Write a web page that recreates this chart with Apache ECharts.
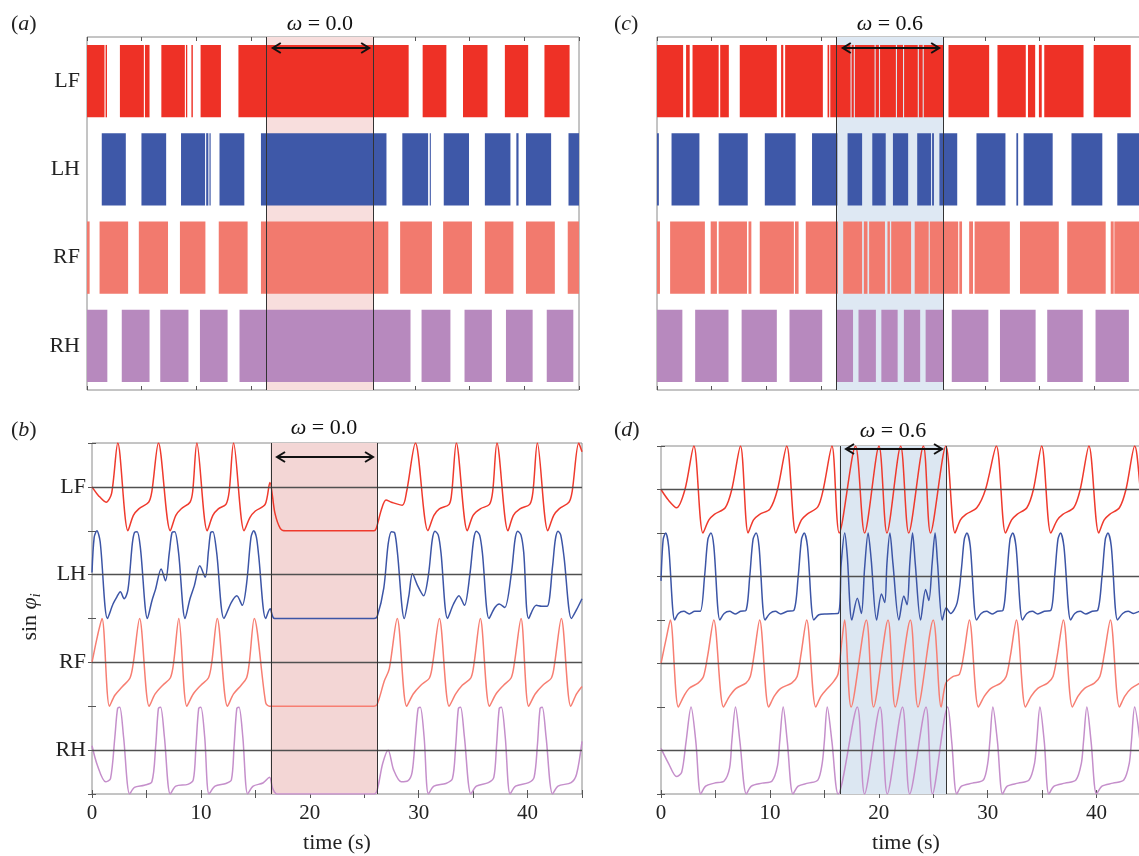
<!DOCTYPE html>
<html><head><meta charset="utf-8">
<script src="https://cdn.jsdelivr.net/npm/echarts@6/dist/echarts.min.js"></script>
<style>html,body{margin:0;padding:0;background:#fff}#c{width:1139px;height:856px}</style>
</head><body><div id="c"></div><script>
// ---------- data ----------
const LEGS = ['LF', 'LH', 'RF', 'RH'];
const TIME_MAX = 45;
const OMEGA = ['0.0', '0.6'];
const PERTURB = [16.4, 26.2];      // perturbation window (s)
const ARROW = [16.9, 25.9];        // arrow span (s)

// stance intervals [start, end] (s), panel (a) omega = 0.0
const LF_A = [[0,1.6],[1.7,1.83],[3.01,5.2],[5.3,5.72],[6.8,8.95],[9.05,9.17],[9.55,9.68],[10.39,12.25],[13.85,29.42],[30.7,32.87],[34.39,36.63],[38.22,40.35],[41.84,44.14]];
const LH_A = [[1.35,3.55],[4.98,7.24],[8.6,10.8],[10.9,11.1],[11.2,11.31],[12.12,14.39],[15.91,27.39],[28.84,31.2],[31.35,31.45],[32.63,34.94],[36.39,38.73],[39.27,39.47],[40.15,42.45],[44.04,45]];
const RF_A = [[0,0.24],[1.15,3.76],[4.74,7.41],[8.5,10.83],[12.05,14.69],[15.91,27.56],[28.64,31.55],[32.57,35.21],[36.39,39.0],[40.15,42.79],[43.97,45]];
const RH_A = [[0,1.86],[3.18,5.72],[6.7,9.28],[10.33,12.86],[13.95,29.59],[30.6,33.24],[34.53,37.03],[38.32,40.76],[42.05,44.48]];
// panel (c) omega = 0.6
const LF_C = [[0,2.39],[2.66,2.99],[3.25,5.64],[5.78,6.57],[7.57,10.96],[11.35,11.55],[11.72,15.17],[15.6,15.75],[15.85,17.7],[17.8,18.0],[18.1,19.9],[20.0,20.3],[20.4,21.85],[21.95,22.5],[22.6,23.85],[23.95,24.3],[24.4,26.16],[26.66,30.38],[31.14,33.73],[33.93,34.59],[34.93,35.19],[35.42,39.01],[39.94,43.33]];
const LH_C = [[0,0.17],[1.33,3.88],[5.64,8.3],[9.86,12.68],[14.18,16.5],[17.43,18.76],[19.69,20.92],[21.58,22.97],[23.8,25.06],[25.16,25.33],[25.83,27.46],[29.22,31.87],[32.87,33.03],[33.53,36.19],[37.91,40.73],[42.1,45]];
const RF_C = [[0,0.27],[1.2,4.38],[4.91,5.48],[5.64,8.23],[8.37,8.63],[9.4,12.52],[12.62,12.95],[13.61,16.54],[17.03,18.76],[18.92,19.25],[19.4,20.85],[21.08,21.3],[21.42,23.24],[23.57,24.85],[24.95,26.16],[26.23,27.55],[27.65,27.9],[28.55,28.9],[29.05,32.27],[33.2,36.75],[37.52,41.04],[41.5,41.77],[41.83,45]];
const RH_C = [[0,2.32],[3.49,6.54],[7.74,10.96],[12.12,15.11],[16.43,17.93],[18.43,20.02],[20.52,22.01],[22.58,24.07],[24.57,26.16],[26.96,30.31],[31.37,34.63],[35.69,38.94],[40.11,43.16]];

// sin(phi_i) readings [t, value], panel (b) omega = 0.0
const LF_B = [[0,0],[0.6,-0.2],[1.3,-0.35],[1.8,-0.15],[2.37,1],[3.3,-1],[3.8,-0.65],[4.3,-0.5],[5.2,-0.35],[5.5,-0.1],[6.1,1],[7.19,-1],[7.7,-0.65],[8.2,-0.5],[9.0,-0.35],[9.25,-0.1],[9.63,1],[10.58,-1],[11.1,-0.65],[11.6,-0.5],[12.3,-0.4],[12.6,-0.1],[13.0,1],[13.97,-1],[14.5,-0.7],[15.0,-0.55],[15.9,-0.4],[16.34,0.1],[16.8,-0.6],[17.3,-0.95],[17.8,-1],[25.9,-1],[26.1,-0.95],[26.6,-0.5],[27.0,-0.3],[27.5,-0.35],[28.5,-0.42],[28.9,-0.1],[29.7,1],[30.85,-1],[31.4,-0.65],[31.9,-0.5],[32.8,-0.4],[33.05,-0.1],[33.46,1],[34.47,-1],[35.0,-0.65],[35.66,-0.5],[36.5,-0.4],[36.8,-0.1],[37.19,1],[38.2,-1],[38.7,-0.65],[39.3,-0.5],[40.2,-0.4],[40.5,-0.1],[40.9,1],[41.86,-1],[42.4,-0.65],[42.9,-0.5],[43.8,-0.35],[44.1,-0.1],[44.7,1],[45,0.8]];
const LH_B = [[0,0.05],[0.2,0.85],[0.45,1],[0.75,0.75],[1.42,-1],[1.93,-0.67],[2.3,-0.5],[2.6,-0.39],[2.95,-0.55],[3.3,-0.35],[3.7,0.7],[3.9,0.96],[4.15,0.98],[4.45,0.6],[5.09,-1],[5.5,-0.6],[5.84,-0.33],[6.35,0.13],[6.75,-0.14],[7.1,0.5],[7.35,0.96],[7.6,0.98],[7.95,0.5],[8.55,-1],[9.0,-0.55],[9.4,-0.25],[9.9,0.2],[10.4,-0.06],[10.7,0.55],[10.9,0.96],[11.1,0.98],[11.45,0.5],[12.12,-1],[12.8,-0.63],[13.3,-0.48],[13.8,-0.7],[14.2,-0.2],[14.6,0.85],[14.85,1],[15.1,0.85],[15.3,0.45],[15.95,-1],[16.36,-0.78],[16.77,-1],[25.9,-1],[26.2,-0.95],[26.8,-0.3],[27.2,0.7],[27.5,0.98],[27.8,0.95],[28.05,0.5],[28.68,-1],[29.1,-0.48],[29.43,0.02],[29.9,-0.25],[30.45,-0.48],[30.9,0.0],[31.25,0.8],[31.5,0.99],[31.8,0.9],[32.05,0.5],[32.65,-1],[33.2,-0.67],[33.7,-0.48],[34.2,-0.7],[34.7,0.0],[35.05,0.8],[35.3,0.99],[35.6,0.9],[35.85,0.5],[36.46,-1],[37.0,-0.75],[37.4,-0.67],[37.9,-0.75],[38.5,0.0],[38.85,0.8],[39.1,0.99],[39.4,0.9],[39.65,0.5],[40.1,-1],[40.8,-0.7],[41.3,-0.72],[41.8,-0.72],[42.3,0.2],[42.55,0.8],[42.8,0.99],[43.05,0.9],[43.35,0.4],[44.03,-1],[44.5,-0.8],[45,-0.55]];
const RF_B = [[0,0],[0.5,0.6],[0.92,1],[1.6,-1],[2.1,-0.75],[2.8,-0.55],[3.5,-0.35],[3.8,0],[4.37,1],[5.25,-1],[5.8,-0.72],[6.5,-0.52],[7.2,-0.35],[7.5,0],[7.97,1],[8.71,-1],[9.3,-0.72],[10.0,-0.52],[10.7,-0.35],[11.0,0],[11.5,1],[12.44,-1],[13.0,-0.72],[13.7,-0.52],[14.2,-0.35],[14.45,0],[14.9,1],[15.95,-0.92],[16.3,-1],[25.9,-1],[26.2,-0.95],[26.85,-0.42],[27.3,-0.15],[28.03,1],[28.9,-1],[29.5,-0.72],[30.2,-0.52],[31.0,-0.35],[31.3,0],[31.9,1],[32.8,-1],[33.4,-0.72],[34.0,-0.52],[34.8,-0.35],[35.1,0],[35.66,1],[36.5,-1],[37.1,-0.72],[37.8,-0.52],[38.5,-0.35],[38.8,0],[39.4,1],[40.1,-1],[40.7,-0.72],[41.4,-0.52],[42.2,-0.35],[42.5,0],[43.1,1],[43.97,-1],[44.5,-0.72],[45,-0.55]];
const RH_B = [[0,0.1],[0.5,-0.35],[1.25,-0.72],[1.7,-0.65],[2.1,0.3],[2.35,0.95],[2.55,0.98],[2.9,0.3],[3.46,-1],[3.9,-0.85],[4.8,-0.8],[5.5,-0.72],[5.85,0.1],[6.1,0.95],[6.3,0.98],[6.65,0.3],[7.19,-1],[7.7,-0.82],[8.8,-0.78],[9.3,-0.68],[9.55,0.1],[9.8,0.95],[10.0,0.98],[10.35,0.3],[10.75,-1],[11.3,-0.82],[12.3,-0.76],[12.8,-0.68],[13.05,0.1],[13.3,0.95],[13.5,0.98],[13.85,0.3],[14.3,-1],[14.8,-0.82],[15.7,-0.75],[16.3,-0.62],[16.6,-0.88],[17.0,-1],[25.9,-1],[26.2,-0.9],[26.7,-0.3],[27.2,0.0],[27.7,-0.45],[28.4,-0.72],[29.0,-0.7],[29.4,-0.5],[29.7,0.3],[29.95,0.95],[30.15,0.98],[30.5,0.3],[30.9,-1],[31.4,-0.82],[32.5,-0.76],[33.1,-0.65],[33.4,0.1],[33.65,0.95],[33.85,0.98],[34.2,0.3],[34.8,-1],[35.3,-0.82],[36.4,-0.74],[36.9,-0.62],[37.15,0.1],[37.4,0.95],[37.6,0.98],[37.95,0.3],[38.4,-1],[38.9,-0.82],[40.1,-0.74],[40.6,-0.62],[40.9,0.1],[41.15,0.95],[41.35,0.98],[41.7,0.3],[42.3,-1],[42.8,-0.82],[44.0,-0.74],[44.5,-0.55],[45,0.2]];
// panel (d) omega = 0.6
const LF_D = [[0,0],[0.7,-0.25],[1.43,-0.42],[2.2,0],[3.02,1],[3.85,-1],[4.4,-0.7],[4.9,-0.57],[5.9,-0.42],[6.5,0],[7.3,1],[8.0,-1],[8.5,-0.7],[9.06,-0.57],[10.0,-0.45],[10.7,0],[11.55,1],[12.38,-1],[12.9,-0.7],[13.4,-0.57],[14.4,-0.4],[14.9,0],[15.7,1],[16.37,-1],[17.86,1],[18.7,-1],[20.02,1],[20.75,-1],[22.01,1],[22.75,-1],[24.1,1],[24.75,-1],[26.16,1],[27.0,-1],[27.5,-0.7],[28.0,-0.57],[29.0,-0.42],[29.8,0],[30.8,1],[31.64,-1],[32.2,-0.7],[32.7,-0.57],[33.6,-0.42],[34.2,0],[34.96,1],[35.8,-1],[36.4,-0.7],[36.9,-0.57],[37.9,-0.42],[38.5,0],[39.3,1],[40.2,-1],[40.7,-0.7],[41.2,-0.57],[42.1,-0.42],[42.7,0],[43.5,1],[44.3,-0.6],[45,-1]];
const LH_D = [[0,-0.1],[0.2,0.85],[0.43,1],[0.7,0.7],[1.26,-1],[1.6,-0.85],[2.1,-0.8],[2.6,-0.86],[3.1,-0.8],[3.6,-0.8],[4.0,0],[4.3,0.85],[4.58,1],[4.85,0.7],[5.41,-1],[5.8,-0.85],[6.3,-0.8],[6.8,-0.86],[7.3,-0.8],[7.8,-0.78],[8.15,0],[8.45,0.85],[8.73,1],[9.0,0.7],[9.56,-1],[10.0,-0.85],[10.5,-0.8],[11.0,-0.86],[11.6,-0.8],[12.2,-0.78],[12.6,0],[12.9,0.85],[13.15,1],[13.45,0.7],[14.04,-1],[14.5,-0.88],[15.2,-0.86],[16.27,-0.85],[16.55,0.3],[16.87,1],[17.1,0.5],[17.53,-1],[18.03,-0.5],[18.4,-0.85],[18.7,0.2],[19.02,1],[19.3,0.4],[19.8,-1],[20.25,-0.4],[20.55,-0.6],[20.75,0.3],[21.02,1],[21.3,0.3],[21.85,-1],[22.3,-0.45],[22.6,-0.65],[22.85,0.3],[23.1,1],[23.35,0.3],[23.84,-1],[24.3,-0.3],[24.6,-0.55],[24.9,0.3],[25.17,1],[25.4,0.3],[25.83,-1],[26.2,-0.72],[26.6,-0.85],[27.2,-0.6],[27.6,0.2],[27.85,0.85],[28.09,1],[28.4,0.7],[28.98,-1],[29.4,-0.85],[29.9,-0.8],[30.4,-0.86],[30.9,-0.8],[31.4,-0.78],[31.75,0],[32.05,0.85],[32.3,1],[32.6,0.7],[33.2,-1],[33.6,-0.85],[34.1,-0.8],[34.6,-0.86],[35.2,-0.8],[35.8,-0.78],[36.15,0],[36.45,0.85],[36.69,1],[37.0,0.7],[37.62,-1],[38.0,-0.85],[38.5,-0.8],[39.0,-0.86],[39.6,-0.8],[40.1,-0.78],[40.5,0],[40.8,0.85],[41.04,1],[41.35,0.7],[41.93,-1],[42.4,-0.85],[42.9,-0.8],[43.4,-0.85],[44.0,-0.8],[45,-0.8]];
const RF_D = [[0,0],[0.5,0.6],[0.86,1],[1.59,-1],[2.1,-0.75],[2.6,-0.57],[3.4,-0.45],[3.9,-0.3],[4.3,0.2],[4.85,1],[5.74,-1],[6.3,-0.75],[6.9,-0.57],[7.8,-0.45],[8.2,-0.3],[8.55,0.2],[9.06,1],[9.89,-1],[10.4,-0.75],[11.0,-0.57],[12.0,-0.45],[12.5,-0.3],[12.85,0.2],[13.38,1],[14.21,-1],[14.7,-0.75],[15.3,-0.57],[15.9,-0.4],[16.27,-0.23],[16.6,0.5],[16.87,1],[17.46,-1],[18.86,1],[19.52,-1],[20.85,1],[21.51,-1],[22.9,1],[23.6,-1],[25.0,1],[25.73,-1],[26.16,-0.45],[26.8,-0.3],[27.4,-0.25],[27.8,0.2],[28.32,1],[29.15,-1],[29.7,-0.75],[30.3,-0.57],[31.2,-0.45],[31.7,-0.3],[32.1,0.2],[32.64,1],[33.47,-1],[34.0,-0.75],[34.6,-0.57],[35.5,-0.45],[36.0,-0.3],[36.4,0.2],[36.95,1],[37.78,-1],[38.3,-0.75],[38.9,-0.57],[39.8,-0.45],[40.3,-0.3],[40.7,0.2],[41.27,1],[42.1,-1],[42.6,-0.75],[43.2,-0.57],[44.0,-0.45],[45,-0.3]];
const RH_D = [[0,0.05],[0.7,-0.3],[1.43,-0.6],[1.9,-0.5],[2.3,0.2],[2.76,1],[3.2,0.2],[3.65,-1],[4.1,-0.82],[4.9,-0.75],[5.8,-0.7],[6.3,-0.4],[6.5,0.2],[6.84,1],[7.25,0.2],[7.84,-1],[8.3,-0.82],[9.3,-0.75],[10.2,-0.7],[10.7,-0.35],[10.9,0.2],[11.22,1],[11.6,0.2],[12.12,-1],[12.6,-0.82],[13.5,-0.75],[14.4,-0.68],[14.8,-0.3],[15.0,0.2],[15.27,1],[15.7,0.2],[16.27,-1],[18.03,1],[18.69,-1],[20.12,1],[20.78,-1],[22.18,1],[22.84,-1],[24.34,1],[24.93,-1],[26.33,1],[26.7,0.2],[27.16,-1],[27.6,-0.82],[28.6,-0.75],[29.6,-0.68],[30.0,-0.3],[30.2,0.2],[30.48,1],[30.9,0.2],[31.37,-1],[31.8,-0.82],[32.8,-0.75],[33.8,-0.68],[34.3,-0.3],[34.5,0.2],[34.8,1],[35.2,0.2],[35.62,-1],[36.1,-0.82],[37.1,-0.75],[38.1,-0.68],[38.6,-0.3],[38.8,0.2],[39.11,1],[39.5,0.2],[40.0,-1],[40.5,-0.82],[41.5,-0.75],[42.5,-0.68],[43.0,-0.3],[43.2,0.2],[43.5,1],[44.0,0.2],[44.5,-1],[45,-0.85]];

// ---------- styling / layout ----------
const SERIF = "'Liberation Serif','Times New Roman',serif";
const BAR_COLORS = ['#EE3126', '#3E58A8', '#F27A6E', '#B789BE'];
const LINE_COLORS = ['#EF3A2D', '#3C55A6', '#F77E72', '#C58FCB'];
const SHADE_COLORS = ['#F8DEDD', '#DEE8F3', '#F3D6D5', '#DCE7F2'];
const GRIDS = [
  {left: 87, top: 37, width: 492, height: 353},   // (a)
  {left: 657, top: 37, width: 492, height: 353},  // (c)
  {left: 92, top: 443, width: 490, height: 351},  // (b)
  {left: 661, top: 446, width: 490, height: 348}  // (d)
];
const ARROW_DY = [11, 11, 14, 3];
const TITLE_DY = [13, 13, 15, 15];
const ROW_OFFSET = [7, 5, 3, 1];

const chart = echarts.init(document.getElementById('c'));

const grid = GRIDS.map(g => Object.assign({show: true, borderColor: '#8a8a8a', borderWidth: 1,
  backgroundColor: 'transparent', containLabel: false, outerBoundsMode: 'none'}, g));

const xAxis = [], yAxis = [];
GRIDS.forEach((g, i) => {
  const ts = i >= 2;
  xAxis.push({
    type: 'value', gridIndex: i, min: 0, max: TIME_MAX, interval: ts ? 10 : 5, position: 'bottom',
    axisLine: {show: false},
    axisTick: {show: true, inside: true, length: 4, lineStyle: {color: '#555'}},
    minorTick: {show: ts, splitNumber: 2, length: 4, lineStyle: {color: '#555'}},
    splitLine: {show: false},
    axisLabel: {show: ts, fontFamily: SERIF, fontSize: 21, color: '#222', margin: 9,
      formatter: v => (v % 10 === 0 ? String(v) : '')},
    name: ts ? 'time (s)' : '', nameLocation: 'middle', nameGap: 38,
    nameTextStyle: {fontFamily: SERIF, fontSize: 22, color: '#222'}
  });
  xAxis.push({
    type: 'value', gridIndex: i, min: 0, max: TIME_MAX, interval: 5, position: 'top',
    axisLine: {show: false}, axisLabel: {show: false}, splitLine: {show: false},
    axisTick: {show: true, inside: true, length: 4, lineStyle: {color: '#555'}}
  });
  if (ts) {
    yAxis.push({
      type: 'value', gridIndex: i, min: 0, max: 8, interval: 1, position: 'left',
      axisLine: {show: false}, splitLine: {show: false},
      axisTick: {show: true, inside: true, length: 4, lineStyle: {color: '#555'}},
      axisLabel: {show: i === 2, fontFamily: SERIF, fontSize: 22, color: '#222', margin: 6,
        formatter: v => { const k = ROW_OFFSET.indexOf(v); return k >= 0 ? LEGS[k] : ''; }}
    });
    yAxis.push({
      type: 'value', gridIndex: i, min: 0, max: 8, interval: 1, position: 'right',
      axisLine: {show: false}, splitLine: {show: false}, axisLabel: {show: false},
      axisTick: {show: true, inside: true, length: 4, lineStyle: {color: '#555'}}
    });
  } else {
    yAxis.push({
      type: 'category', gridIndex: i, data: LEGS, inverse: true, position: 'left',
      axisLine: {show: false}, axisTick: {show: false}, splitLine: {show: false},
      axisLabel: {show: i === 0, fontFamily: SERIF, fontSize: 22, color: '#222', margin: 7}
    });
    yAxis.push({
      type: 'category', gridIndex: i, data: LEGS, inverse: true, position: 'right',
      axisLine: {show: false}, axisTick: {show: false}, axisLabel: {show: false}, splitLine: {show: false}
    });
  }
});

function bandRender(color) {
  return function (params, api) {
    const cs = params.coordSys;
    const x0 = api.coord([api.value(0), 0])[0], x1 = api.coord([api.value(1), 0])[0];
    return {type: 'rect', shape: {x: x0, y: cs.y, width: x1 - x0, height: cs.height}, style: {fill: color}};
  };
}
function edgeRender(params, api) {
  const cs = params.coordSys;
  const x0 = Math.round(api.coord([api.value(0), 0])[0]) + 0.5, x1 = Math.round(api.coord([api.value(1), 0])[0]) + 0.5;
  return {type: 'group', children: [
    {type: 'line', shape: {x1: x0, y1: cs.y, x2: x0, y2: cs.y + cs.height}, style: {stroke: '#333', lineWidth: 1}},
    {type: 'line', shape: {x1: x1, y1: cs.y, x2: x1, y2: cs.y + cs.height}, style: {stroke: '#333', lineWidth: 1}}
  ]};
}
function markerRender(dy, tdy, label) {
  return function (params, api) {
    const cs = params.coordSys;
    const xa = api.coord([api.value(0), 0])[0], xb = api.coord([api.value(1), 0])[0];
    const xs = api.coord([api.value(2), 0])[0], xe = api.coord([api.value(3), 0])[0];
    const y = cs.y + dy;
    return {type: 'group', children: [
      {type: 'line', shape: {x1: xa + 1, y1: y, x2: xb - 1, y2: y}, style: {stroke: '#111', lineWidth: 2}},
      {type: 'polyline', shape: {points: [[xa + 9, y - 5], [xa + 1, y], [xa + 9, y + 5]]}, style: {stroke: '#111', lineWidth: 2, fill: null}},
      {type: 'polyline', shape: {points: [[xb - 9, y - 5], [xb - 1, y], [xb - 9, y + 5]]}, style: {stroke: '#111', lineWidth: 2, fill: null}},
      {type: 'text', x: (xs + xe) / 2, y: cs.y - tdy,
        style: {text: '{i|ω} = ' + label, fontFamily: SERIF, fontSize: 22, fill: '#111', align: 'center', verticalAlign: 'middle',
          rich: {i: {fontFamily: SERIF, fontSize: 22, fontStyle: 'italic', fill: '#111'}}}}
    ]};
  };
}
function barRender(params, api) {
  const row = api.value(0);
  const p0 = api.coord([api.value(1), row]), p1 = api.coord([api.value(2), row]);
  const h = api.size([0, 1])[1] * 0.82;
  const cs = params.coordSys;
  const r = echarts.graphic.clipRectByRect(
    {x: p0[0], y: p0[1] - h / 2, width: Math.max(p1[0] - p0[0], 0.9), height: h},
    {x: cs.x, y: cs.y, width: cs.width, height: cs.height});
  return r && {type: 'rect', shape: r, style: {fill: api.visual('color')}};
}

const series = [];
[0, 1, 2, 3].forEach(i => {
  const om = OMEGA[i % 2];
  series.push({type: 'custom', xAxisIndex: 2 * i, yAxisIndex: 2 * i, z: 1, silent: true,
    renderItem: bandRender(SHADE_COLORS[i]), encode: {x: [0, 1], y: 2}, data: [[PERTURB[0], PERTURB[1], 0]]});
  series.push({type: 'custom', xAxisIndex: 2 * i, yAxisIndex: 2 * i, z: 6, silent: true,
    renderItem: edgeRender, encode: {x: [0, 1], y: 2}, data: [[PERTURB[0], PERTURB[1], 0]]});
  series.push({type: 'custom', xAxisIndex: 2 * i, yAxisIndex: 2 * i, z: 7, silent: true,
    renderItem: markerRender(ARROW_DY[i], TITLE_DY[i], om), encode: {x: [0, 1], y: 4},
    data: [[ARROW[0], ARROW[1], PERTURB[0], PERTURB[1], 0]]});
});

const GAIT = [[LF_A, LH_A, RF_A, RH_A], [LF_C, LH_C, RF_C, RH_C]];
GAIT.forEach((legs, gi) => {
  legs.forEach((arr, li) => {
    series.push({type: 'custom', name: LEGS[li], xAxisIndex: 2 * gi, yAxisIndex: 2 * gi, z: 3, silent: true,
      itemStyle: {color: BAR_COLORS[li]}, renderItem: barRender, encode: {x: [1, 2], y: 0},
      data: arr.map(([s, e]) => [li, s, e])});
  });
});

const CURVES = [[LF_B, LH_B, RF_B, RH_B], [LF_D, LH_D, RF_D, RH_D]];
CURVES.forEach((legs, ci) => {
  const gi = ci + 2;
  legs.forEach((arr, li) => {
    const off = ROW_OFFSET[li];
    series.push({type: 'line', name: LEGS[li], xAxisIndex: 2 * gi, yAxisIndex: 2 * gi, z: 4,
      data: arr.map(([t, v]) => [t, v + off]), smooth: 0.3, showSymbol: false, silent: true,
      lineStyle: {color: LINE_COLORS[li], width: 1.5},
      markLine: {silent: true, symbol: 'none', label: {show: false}, animation: false,
        lineStyle: {color: '#505050', width: 1.4, type: 'solid'}, data: [{yAxis: off}]}});
  });
});

const graphic = [
  {type: 'text', left: 11, top: 13, style: {text: '({i|a})', fontFamily: SERIF, fontSize: 22, fill: '#222', rich: {i: {fontFamily: SERIF, fontSize: 22, fontStyle: 'italic'}}}},
  {type: 'text', left: 614, top: 13, style: {text: '({i|c})', fontFamily: SERIF, fontSize: 22, fill: '#222', rich: {i: {fontFamily: SERIF, fontSize: 22, fontStyle: 'italic'}}}},
  {type: 'text', left: 11, top: 419, style: {text: '({i|b})', fontFamily: SERIF, fontSize: 22, fill: '#222', rich: {i: {fontFamily: SERIF, fontSize: 22, fontStyle: 'italic'}}}},
  {type: 'text', left: 614, top: 419, style: {text: '({i|d})', fontFamily: SERIF, fontSize: 22, fill: '#222', rich: {i: {fontFamily: SERIF, fontSize: 22, fontStyle: 'italic'}}}},
  {type: 'text', x: 30, y: 617, rotation: Math.PI / 2,
    style: {text: 'sin {i|φ}{s|i}', fontFamily: SERIF, fontSize: 22, fill: '#222', align: 'center', verticalAlign: 'middle',
      rich: {i: {fontFamily: SERIF, fontSize: 22, fontStyle: 'italic'}, s: {fontFamily: SERIF, fontSize: 14, fontStyle: 'italic', padding: [12, 0, 0, 0]}}}}
];

chart.setOption({animation: false, grid, xAxis, yAxis, series, graphic});
</script></body></html>
